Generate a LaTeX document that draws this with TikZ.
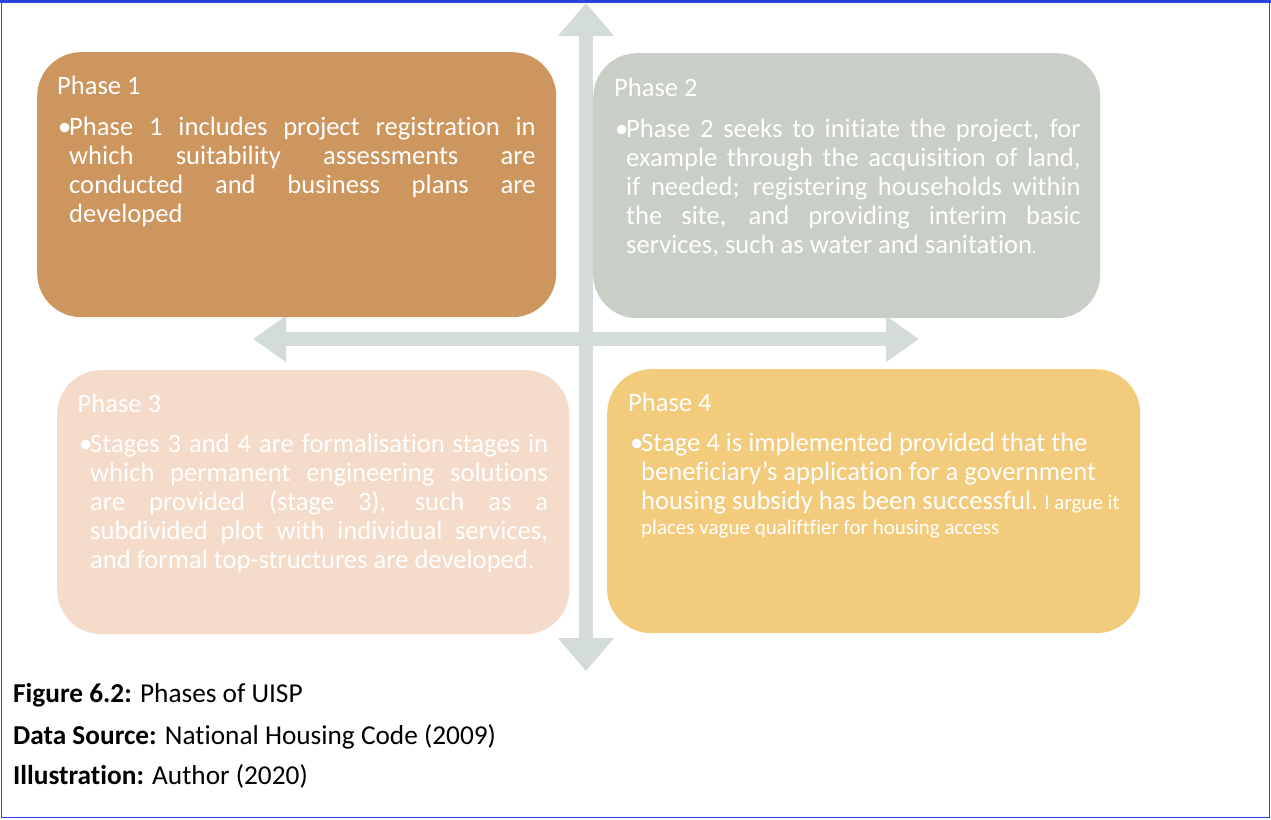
\documentclass[tikz,border=0pt]{standalone}
\usepackage{fontspec}
\setmainfont{Carlito}[Ligatures=NoCommon]
\usetikzlibrary{arrows.meta}
\definecolor{pone}{RGB}{204,150,94}
\definecolor{ptwo}{RGB}{201,206,198}
\definecolor{pthree}{RGB}{245,219,202}
\definecolor{pfour}{RGB}{243,203,124}
\definecolor{arrowc}{RGB}{211,220,219}
\definecolor{bordc}{RGB}{38,68,222}
\tikzset{
  phasebox/.style={rounded corners=44pt, inner sep=0pt, anchor=north west, draw=none},
  headtext/.style={anchor=base west, inner sep=0pt, text=white, font=\fontsize{26.5}{29}\selectfont},
  bodytext/.style={anchor=base west, inner sep=0pt, text=white, font=\fontsize{26.6}{29}\selectfont, align=justify},
  crossarrow/.style={draw=arrowc, line width=13.5pt, {Triangle[length=33pt,width=54pt]}-{Triangle[length=33pt,width=54pt]}},
  captext/.style={anchor=base west, inner sep=0pt, text=black, font=\fontsize{27.3}{30}\selectfont},
}
\newcommand{\bul}{\llap{\makebox[11pt][l]{•}}}
\newcommand{\smalltxt}{\fontsize{21}{23}\selectfont}
\begin{document}
\begin{tikzpicture}[x=1pt,y=-1pt]
\useasboundingbox (0,0) rectangle (1271,819);
\fill[white] (0,0) rectangle (1271,819);
% cross arrows
\coordinate (vtop) at (586,3);
\coordinate (vbot) at (586,671);
\coordinate (hleft) at (253,339);
\coordinate (hright) at (919,339);
\draw[crossarrow] (vtop) -- (vbot);
\draw[crossarrow, line width=14pt, {Triangle[length=33pt,width=44pt]}-{Triangle[length=33pt,width=44pt]}] (hleft) -- (hright);
% boxes
\node[phasebox, fill=pone, minimum width=519pt, minimum height=265pt] (p1) at (37,52) {};
\node[phasebox, fill=ptwo, minimum width=507pt, minimum height=265pt] (p2) at (593,53) {};
\node[phasebox, fill=pthree, minimum width=512pt, minimum height=264pt] (p3) at (57,370) {};
\node[phasebox, fill=pfour, minimum width=533pt, minimum height=264pt] (p4) at (607,369) {};
% texts
\node[headtext] (h1) at (57,94) {Phase 1};
\node[bodytext, text width=466.5pt] (b1) at (69,135) {\bul Phase 1 includes project registration in\linebreak which suitability assessments are\linebreak conducted and business plans are\linebreak developed};
\node[headtext] (h2) at (614,96.5) {Phase 2};
\node[bodytext, text width=454.5pt] (b2) at (626,137) {\bul Phase 2 seeks to initiate the project, for\linebreak example through the acquisition of land,\linebreak if needed; registering households within\linebreak the site, and providing interim basic\linebreak services, such as water and sanitation{\fontsize{18}{20}\selectfont .}};
\node[headtext] (h3) at (77.5,412) {Phase 3};
\node[bodytext, text width=458pt] (b3) at (90,452) {\bul Stages 3 and 4 are formalisation stages in\linebreak which permanent engineering solutions\linebreak are provided (stage 3), such as a\linebreak subdivided plot with individual services,\linebreak and formal top-structures are developed.};
\node[headtext] (h4) at (628,411.5) {Phase 4};
\node[bodytext, align=flush left, text width=540pt] (b4) at (641,451) {\bul Stage 4 is implemented provided that the\\ beneficiary’s application for a government\\ housing subsidy has been successful.{\smalltxt{} I argue it}\\[-4pt] {\smalltxt places vague qualiftfier for housing access}};
% caption
\node[captext] (c1) at (13,702) {\textbf{Figure 6.2:} Phases of UISP};
\node[captext] (c2) at (13,744) {\textbf{Data Source:} National Housing Code (2009)};
\node[captext] (c3) at (13,784) {\textbf{Illustration:} Author (2020)};
% frame
\draw[bordc, line width=1.8pt] (1.5,1.5) rectangle (1269.5,817.5);
\draw[bordc, line width=3pt] (0,1.5) -- (1271,1.5);
\end{tikzpicture}
\end{document}
